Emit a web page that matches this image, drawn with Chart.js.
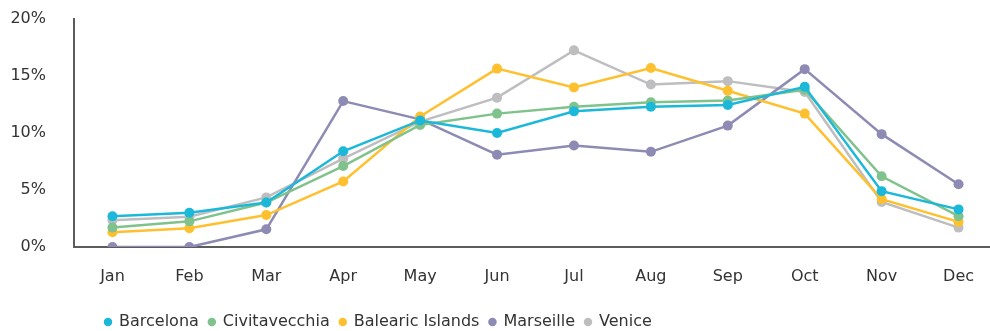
<!DOCTYPE html>
<html>
<head>
<meta charset="utf-8">
<title>Monthly share of cruise passengers</title>
<script src="https://cdn.jsdelivr.net/npm/chart.js@4/dist/chart.umd.min.js"></script>
<style>
    html, body { margin: 0; padding: 0; background: #fff; overflow: hidden; }
    #wrap { position: relative; width: 1002px; height: 331px; }
</style>
</head>
<body>
<div id="wrap"><canvas id="ports"></canvas></div>
<script>
(function(){
    'use strict';

    var months = ['Jan','Feb','Mar','Apr','May','Jun','Jul','Aug','Sep','Oct','Nov','Dec'];
    var yTicks = [0, 5, 10, 15, 20];

    var barcelona     = [2.7, 3.0, 3.9, 8.4, 11.1, 10.0, 11.9, 12.3, 12.45, 14.05, 4.9, 3.3];
    var civitavecchia = [1.7, 2.25, 3.9, 7.1, 10.7, 11.7, 12.3, 12.7, 12.85, 13.8, 6.2, 2.7];
    var balearic      = [1.3, 1.65, 2.8, 5.75, 11.45, 15.65, 14.0, 15.7, 13.7, 11.7, 4.2, 2.2];
    var marseille     = [0, 0, 1.55, 12.8, 11.2, 8.1, 8.9, 8.35, 10.65, 15.6, 9.9, 5.5];
    var venice        = [2.35, 2.65, 4.35, 7.75, 11.0, 13.1, 17.25, 14.25, 14.55, 13.6, 3.95, 1.7];

    var textColor = '#333333';
    var axisColor = '#5c5c5c';
    var font = { family: '"DejaVu Sans", sans-serif', size: 16 };

    function series(label, data, color){
        return {
            label: label,
            data: data,
            borderColor: color,
            backgroundColor: color,
            borderWidth: 2.5,
            pointRadius: 5,
            pointHoverRadius: 5,
            pointBorderWidth: 0,
            pointBackgroundColor: color,
            tension: 0,
            fill: false
        };
    }

    // nudge the legend row to where it sits under the plot
    var legendShift = {
        id: 'legendShift',
        afterLayout: function(chart){
            var lg = chart.legend;
            if (!lg) { return; }
            var w = lg.right - lg.left;
            lg.left = 95;
            lg.right = lg.left + w;
            lg.top += 9;
            lg.bottom += 9;
        }
    };

    var ctx = document.getElementById('ports').getContext('2d');
    var chart = new Chart(ctx, {
        type: 'line',
        data: {
            labels: months,
            datasets: [
                series('Barcelona', barcelona, '#1bb8d9'),
                series('Civitavecchia', civitavecchia, '#80c28b'),
                series('Balearic Islands', balearic, '#fec02e'),
                series('Marseille', marseille, '#8d8bb4'),
                series('Venice', venice, '#bebec1')
            ]
        },
        options: {
            responsive: true,
            maintainAspectRatio: false,
            animation: false,
            layout: { padding: { top: 0, right: 1, left: 0, bottom: 0 } },
            plugins: {
                legend: {
                    position: 'bottom',
                    align: 'start',
                    labels: {
                        usePointStyle: true,
                        pointStyle: 'circle',
                        boxWidth: 6,
                        boxHeight: 6,
                        padding: 10,
                        color: textColor,
                        font: font
                    }
                },
                tooltip: { enabled: false }
            },
            scales: {
                x: {
                    offset: true,
                    grid: { display: false, drawTicks: false },
                    border: { display: true, color: axisColor, width: 2 },
                    ticks: {
                        padding: 20,
                        color: textColor,
                        font: font
                    },
                    afterFit: function(scale){ scale.height = 48; }
                },
                y: {
                    min: yTicks[0],
                    max: yTicks[yTicks.length - 1],
                    grid: { display: false, drawTicks: false },
                    border: { display: true, color: axisColor, width: 2 },
                    afterBuildTicks: function(scale){
                        scale.ticks = yTicks.map(function(v){ return { value: v }; });
                    },
                    ticks: {
                        padding: 28,
                        color: textColor,
                        font: font,
                        callback: function(v){ return v + '%'; }
                    },
                    afterFit: function(scale){
                        scale.width = 74;
                        scale.paddingTop = 19;
                        scale.paddingBottom = 0;
                    }
                }
            }
        },
        plugins: [legendShift]
    });

}());
</script>
</body>
</html>
